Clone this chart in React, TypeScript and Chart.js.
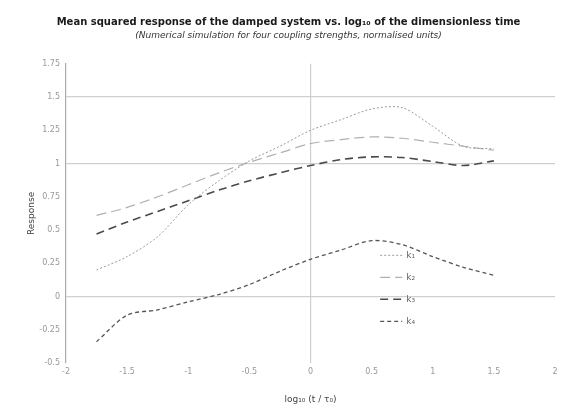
import React, { useEffect, useRef } from "react";
import { Chart, registerables } from "chart.js";

Chart.register(...registerables);

const xValues = [-1.75, -1.5, -1.25, -1, -0.75, -0.5, -0.25, 0, 0.25, 0.5, 0.75, 1, 1.25, 1.5];
const seriesA = [0.2, 0.3, 0.45, 0.69, 0.87, 1.02, 1.13, 1.25, 1.33, 1.41, 1.42, 1.28, 1.13, 1.11];
const seriesB = [0.61, 0.67, 0.75, 0.84, 0.93, 1.01, 1.08, 1.15, 1.18, 1.2, 1.19, 1.16, 1.13, 1.1];
const seriesC = [0.47, 0.56, 0.64, 0.72, 0.8, 0.87, 0.93, 0.985, 1.03, 1.05, 1.045, 1.015, 0.985, 1.02];
const seriesD = [-0.34, -0.14, -0.1, -0.04, 0.015, 0.09, 0.19, 0.28, 0.35, 0.42, 0.39, 0.3, 0.22, 0.16];
const seriesLabels = ["k₁", "k₂", "k₃", "k₄"];
const gridY = [0, 1, 1.5];
const gridX = [0];

const titleText = "Mean squared response of the damped system vs. log₁₀ of the dimensionless time";
const subtitleText = "(Numerical simulation for four coupling strengths, normalised units)";
const xTitle = "log₁₀ (t / τ₀)";
const yTitle = "Response";

const styles = [
  { color: "#9a9a9a", width: 1, dash: [2, 2] },
  { color: "#b0b0b0", width: 1.2, dash: [10, 5] },
  { color: "#4a4a4a", width: 1.6, dash: [8, 5] },
  { color: "#555555", width: 1.3, dash: [4, 3] },
];

const legendPlugin = {
  id: "innerLegend",
  afterDatasetsDraw(chart: any) {
    const ctx = chart.ctx;
    const xs = chart.scales.x;
    const ys = chart.scales.y;
    const x0 = xs.getPixelForValue(0.57);
    const yTop = ys.getPixelForValue(0.31);
    const step = 22;
    ctx.save();
    chart.data.datasets.forEach((ds: any, i: number) => {
      const y = yTop + i * step;
      ctx.beginPath();
      ctx.strokeStyle = ds.borderColor;
      ctx.lineWidth = ds.borderWidth;
      ctx.setLineDash(ds.borderDash || []);
      ctx.moveTo(x0, y);
      ctx.lineTo(x0 + 22, y);
      ctx.stroke();
      ctx.setLineDash([]);
      ctx.fillStyle = "#666";
      ctx.font = "9px 'DejaVu Sans'";
      ctx.textBaseline = "middle";
      ctx.fillText(ds.label, x0 + 26, y);
    });
    ctx.restore();
  },
};

export default function App() {
  const ref = useRef<HTMLCanvasElement>(null);
  useEffect(() => {
    document.body.style.margin = "0";
    const all = [seriesA, seriesB, seriesC, seriesD];
    const chart = new Chart(ref.current!, {
      type: "line",
      data: {
        datasets: all.map((vals, i) => ({
          label: seriesLabels[i],
          data: xValues.map((x, j) => ({ x, y: vals[j] })),
          borderColor: styles[i].color,
          borderWidth: styles[i].width,
          borderDash: styles[i].dash,
          pointRadius: 0,
          tension: 0.3,
          fill: false,
        })),
      },
      options: {
        animation: false,
        responsive: false,
        maintainAspectRatio: false,
        layout: { padding: { left: 22, right: 10, top: 10, bottom: 0 } },
        plugins: {
          legend: { display: false },
          tooltip: { enabled: false },
          title: {
            display: true,
            text: titleText,
            color: "#1a1a1a",
            font: { family: "'DejaVu Sans'", size: 10, weight: "bold" },
            padding: { top: 6, bottom: 2 },
          },
          subtitle: {
            display: true,
            text: subtitleText,
            color: "#333",
            font: { family: "'DejaVu Sans'", size: 9, style: "italic" },
            padding: { top: 0, bottom: 23 },
          },
        },
        scales: {
          x: {
            type: "linear",
            min: -2,
            max: 2,
            ticks: {
              stepSize: 0.5,
              color: "#999",
              font: { family: "'DejaVu Sans'", size: 8 },
              padding: 4,
              callback: (v: any) => String(v),
            },
            grid: {
              color: (c: any) => (gridX.includes(c.tick?.value) ? "#cfcfcf" : "rgba(0,0,0,0)"),
              lineWidth: 1.2,
              drawTicks: false,
            },
            border: { display: false },
            title: {
              display: true,
              text: xTitle,
              color: "#444",
              font: { family: "'DejaVu Sans'", size: 9 },
              padding: { top: 6 },
            },
            afterFit: (s: any) => {
              s.height = 46;
            },
          },
          y: {
            type: "linear",
            min: -0.5,
            max: 1.75,
            ticks: {
              stepSize: 0.25,
              color: "#999",
              font: { family: "'DejaVu Sans'", size: 8 },
              padding: 6,
              callback: (v: any) => String(v),
            },
            grid: {
              color: (c: any) => (gridY.includes(c.tick?.value) ? "#cfcfcf" : "rgba(0,0,0,0)"),
              lineWidth: 1.2,
              drawTicks: false,
            },
            border: { display: true, color: "#aaa", width: 1.2 },
            title: {
              display: true,
              text: yTitle,
              color: "#444",
              font: { family: "'DejaVu Sans'", size: 9 },
            },
            afterFit: (s: any) => {
              s.width = 44;
            },
          },
        },
      },
      plugins: [legendPlugin],
    });
    return () => chart.destroy();
  }, []);
  return <canvas ref={ref} width={565} height={409} style={{ display: "block" }} />;
}
